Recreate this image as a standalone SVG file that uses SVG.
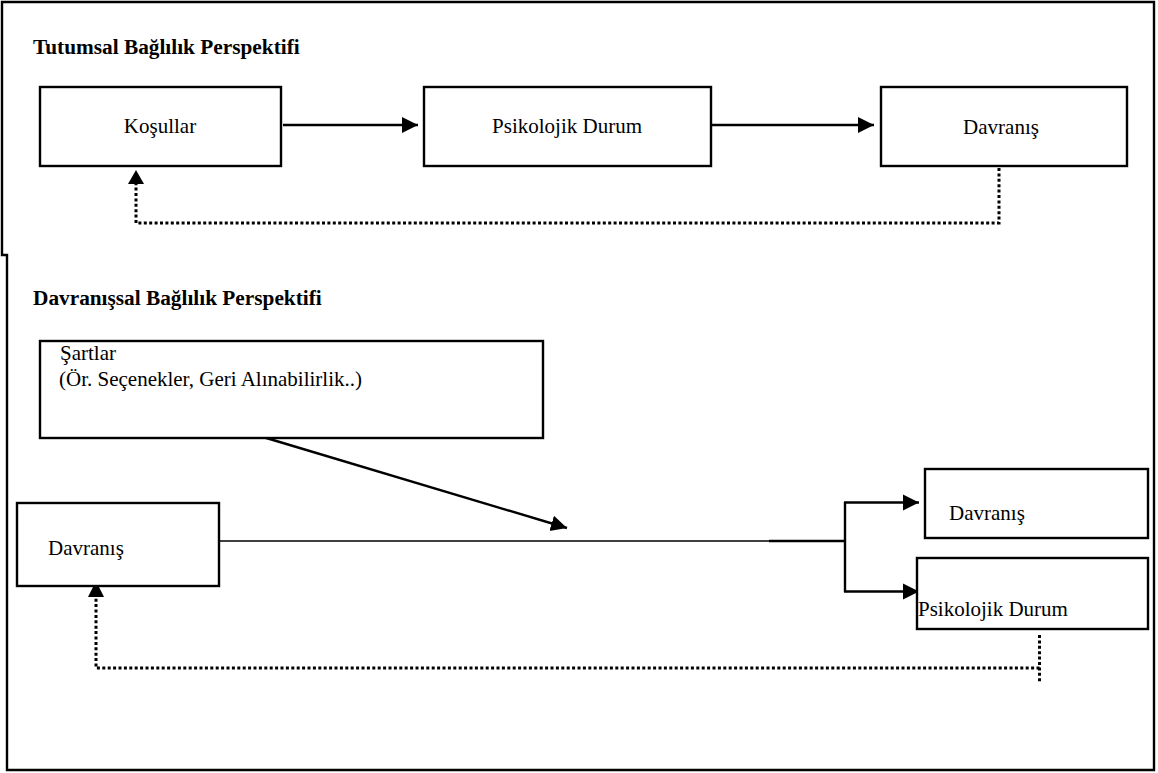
<svg xmlns="http://www.w3.org/2000/svg" width="1158" height="773" viewBox="0 0 1158 773">
<style>
text{font-family:"Liberation Serif","Times New Roman",serif;font-size:21px;fill:#000}
.title{font-weight:bold;font-size:21.3px}
.box{fill:#fff;stroke:#000;stroke-width:2.4}
.solid{fill:none;stroke:#000;stroke-width:2.4}
.thin{fill:none;stroke:#000;stroke-width:1.5}
.dot{fill:none;stroke:#000;stroke-width:3;stroke-dasharray:3 2.4}
</style>
<defs>
<marker id="ah" markerUnits="userSpaceOnUse" markerWidth="17" markerHeight="17" viewBox="0 0 17 17" refX="16" refY="8.5" orient="auto">
<path d="M0,0.5 L16,8.5 L0,16.5 Z" fill="#000"/>
</marker>
</defs>
<rect x="0" y="0" width="1158" height="773" fill="#fff"/>
<path d="M2,2 H1154 V770 H7 V255 H2 Z" fill="none" stroke="#000" stroke-width="2.4"/>
<text class="title" x="33" y="54">Tutumsal Bağlılık Perspektifi</text>
<text class="title" x="33" y="305">Davranışsal Bağlılık Perspektifi</text>
<g id="connectors">
<line class="solid" x1="283" y1="125" x2="418" y2="125" marker-end="url(#ah)"/>
<line class="solid" x1="711" y1="125" x2="874" y2="125" marker-end="url(#ah)"/>
<path class="dot" d="M999,168 V223 H136 V184"/>
<path d="M128,184 L136,170 L144,184 Z" fill="#000"/>
<line class="solid" x1="263" y1="437" x2="567" y2="528" marker-end="url(#ah)"/>
<line class="thin" x1="208" y1="541" x2="770" y2="541"/>
<line class="solid" x1="769" y1="541" x2="845" y2="541"/>
<path class="solid" d="M845,502 V592"/>
<line class="solid" x1="844" y1="502.5" x2="919" y2="502.5" marker-end="url(#ah)"/>
<line class="solid" x1="844" y1="591.5" x2="919" y2="591.5" marker-end="url(#ah)"/>
<path class="dot" d="M1039.5,635 V683"/>
<path class="dot" d="M1039.5,668 H96 V597"/>
<path d="M88,597 L96,581 L104,597 Z" fill="#000"/>
</g>
<g id="kosullar">
<rect class="box" x="40" y="87" width="241" height="79"/>
<text x="160" y="133" text-anchor="middle">Koşullar</text>
</g>
<g id="psikolojik-top">
<rect class="box" x="424" y="87" width="287" height="79"/>
<text x="567" y="133" text-anchor="middle">Psikolojik Durum</text>
</g>
<g id="davranis-top">
<rect class="box" x="881" y="87" width="246" height="79"/>
<text x="1001" y="134" text-anchor="middle">Davranış</text>
</g>
<g id="sartlar">
<rect class="box" x="40" y="341" width="503" height="97"/>
<text x="60" y="360">Şartlar</text>
<text x="59" y="386">(Ör. Seçenekler, Geri Alınabilirlik..)</text>
</g>
<g id="davranis-left">
<rect class="box" x="17" y="503" width="202" height="83"/>
<text x="48" y="555">Davranış</text>
</g>
<g id="davranis-right">
<rect class="box" x="925" y="469" width="223" height="69"/>
<text x="949" y="520">Davranış</text>
</g>
<g id="psikolojik-right">
<rect class="box" x="917" y="558" width="231" height="71"/>
<text x="918" y="616">Psikolojik Durum</text>
</g>
</svg>
